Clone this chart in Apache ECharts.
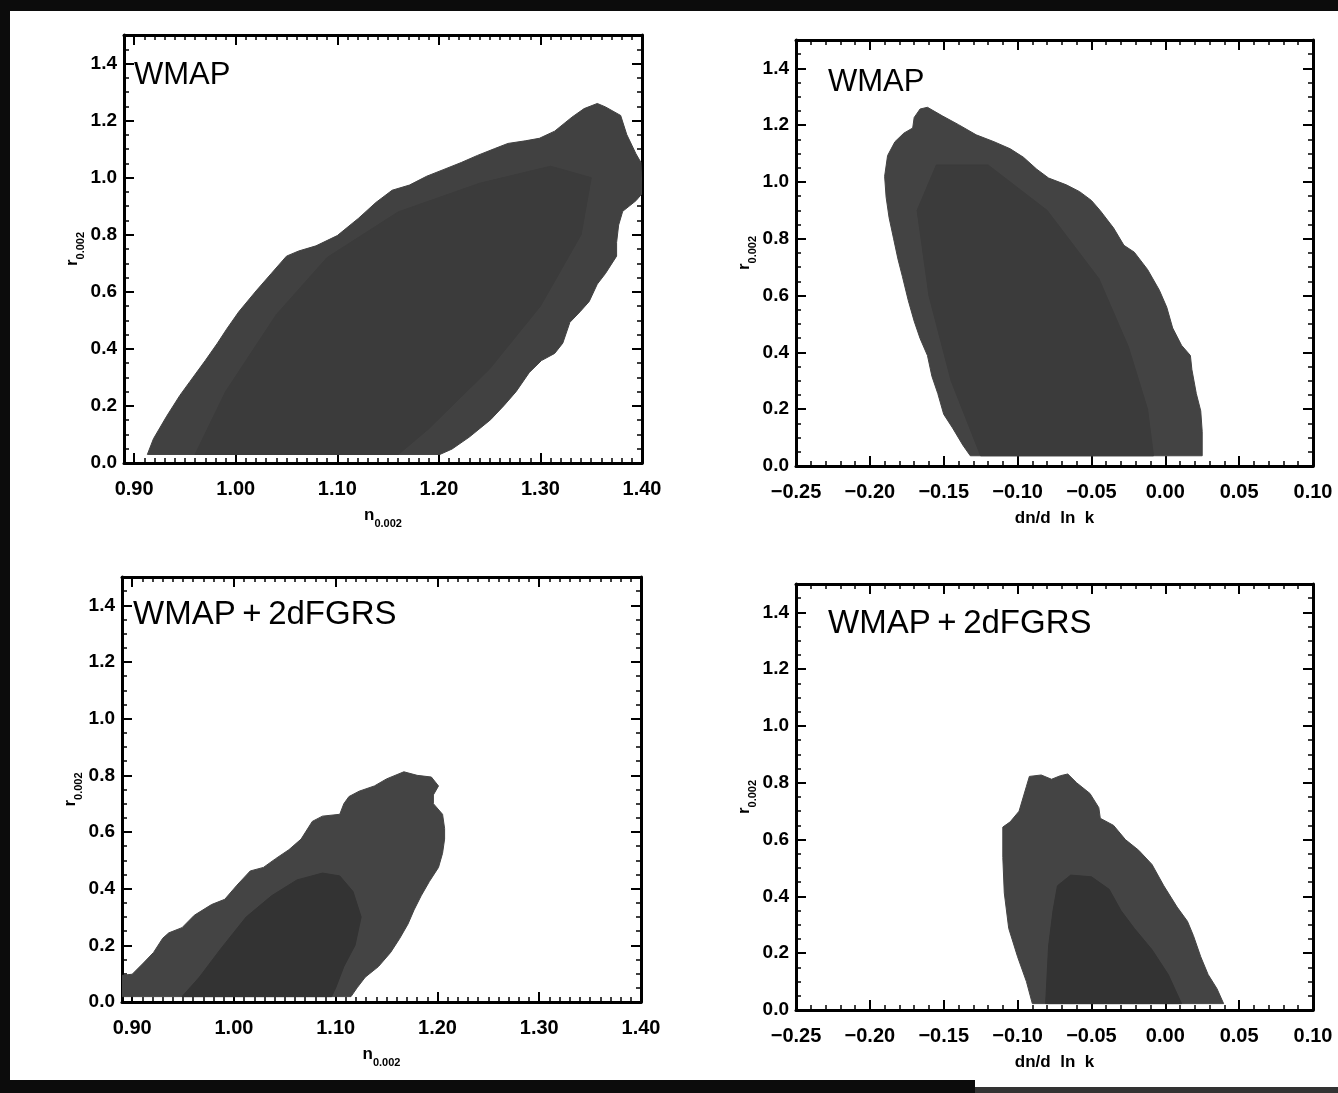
<!DOCTYPE html>
<html>
<head>
<meta charset="utf-8">
<script src="https://cdn.jsdelivr.net/npm/echarts@6/dist/echarts.min.js"></script>
<style>
  html, body { margin: 0; padding: 0; background: #fff; }
  #chart { width: 1338px; height: 1093px; }
</style>
</head>
<body>
<div id="chart"></div>
<script>
// tick labels
const nTicks = [0.9, 1.0, 1.1, 1.2, 1.3, 1.4]
const dnTicks = [-0.25, -0.2, -0.15, -0.1, -0.05, 0, 0.05, 0.1]
const rTicks = [0, 0.2, 0.4, 0.6, 0.8, 1.0, 1.2, 1.4]

// contours, [x, r]
const tlOuter = [
  [0.913, 0.03], [0.919, 0.085], [0.932, 0.164], [0.945, 0.237], [0.955, 0.286], [0.970, 0.359],
  [0.982, 0.42], [0.991, 0.469], [1.003, 0.53], [1.020, 0.603], [1.035, 0.664], [1.050, 0.725],
  [1.062, 0.743], [1.079, 0.761], [1.100, 0.797], [1.121, 0.858], [1.138, 0.913], [1.154, 0.956],
  [1.171, 0.974], [1.188, 1.005], [1.205, 1.029], [1.222, 1.053], [1.238, 1.078], [1.255, 1.102],
  [1.268, 1.12], [1.285, 1.129], [1.299, 1.138], [1.314, 1.163], [1.331, 1.212], [1.343, 1.242],
  [1.356, 1.26], [1.364, 1.248], [1.379, 1.218], [1.385, 1.151], [1.390, 1.114], [1.394, 1.084],
  [1.399, 1.053], [1.4, 0.944], [1.394, 0.919], [1.381, 0.882], [1.377, 0.834], [1.375, 0.773],
  [1.375, 0.725], [1.364, 0.664], [1.356, 0.627], [1.348, 0.566], [1.339, 0.53], [1.329, 0.493],
  [1.322, 0.42], [1.314, 0.384], [1.301, 0.359], [1.289, 0.317], [1.276, 0.25], [1.264, 0.201],
  [1.251, 0.152], [1.230, 0.091], [1.213, 0.049], [1.201, 0.03]
]
const tlInner = [
  [0.96, 0.03], [0.99, 0.25], [1.04, 0.52], [1.09, 0.72], [1.16, 0.88], [1.24, 0.98],
  [1.31, 1.04], [1.35, 1.0], [1.34, 0.8], [1.30, 0.55], [1.25, 0.33], [1.19, 0.12], [1.16, 0.03]
]
const trOuter = [
  [-0.132, 0.036], [-0.137, 0.073], [-0.144, 0.134], [-0.15, 0.182], [-0.154, 0.255], [-0.158, 0.316],
  [-0.161, 0.389], [-0.166, 0.449], [-0.17, 0.51], [-0.174, 0.583], [-0.178, 0.668], [-0.181, 0.729],
  [-0.184, 0.802], [-0.187, 0.875], [-0.189, 0.947], [-0.19, 1.02], [-0.188, 1.093], [-0.183, 1.142],
  [-0.177, 1.172], [-0.171, 1.19], [-0.17, 1.227], [-0.166, 1.257], [-0.161, 1.263], [-0.151, 1.233],
  [-0.14, 1.202], [-0.128, 1.166], [-0.116, 1.142], [-0.105, 1.117], [-0.096, 1.087], [-0.087, 1.045],
  [-0.079, 1.014], [-0.067, 0.99], [-0.058, 0.966], [-0.05, 0.935], [-0.044, 0.899], [-0.035, 0.838],
  [-0.028, 0.777], [-0.021, 0.753], [-0.012, 0.692], [-0.004, 0.619], [0.001, 0.559], [0.005, 0.486],
  [0.011, 0.425], [0.017, 0.389], [0.018, 0.34], [0.021, 0.255], [0.024, 0.194], [0.025, 0.121],
  [0.025, 0.036]
]
const trInner = [
  [-0.125, 0.036], [-0.145, 0.3], [-0.16, 0.6], [-0.168, 0.9], [-0.155, 1.06], [-0.12, 1.06],
  [-0.08, 0.9], [-0.045, 0.66], [-0.025, 0.42], [-0.012, 0.2], [-0.008, 0.036]
]
const blOuter = [
  [0.89, 0.019], [0.89, 0.094], [0.9, 0.098], [0.911, 0.1375], [0.921, 0.175], [0.93, 0.225],
  [0.936, 0.244], [0.949, 0.2625], [0.961, 0.306], [0.978, 0.344], [0.991, 0.3625], [1.003, 0.4125],
  [1.016, 0.4625], [1.029, 0.475], [1.041, 0.506], [1.054, 0.5375], [1.066, 0.575], [1.077, 0.6375],
  [1.087, 0.656], [1.104, 0.6625], [1.108, 0.7], [1.113, 0.725], [1.123, 0.744], [1.138, 0.7625],
  [1.15, 0.7875], [1.167, 0.8125], [1.18, 0.8], [1.194, 0.794], [1.201, 0.7625], [1.196, 0.731],
  [1.196, 0.7], [1.205, 0.6625], [1.207, 0.6125], [1.207, 0.575], [1.205, 0.525], [1.201, 0.475],
  [1.192, 0.425], [1.184, 0.375], [1.177, 0.325], [1.171, 0.275], [1.163, 0.225], [1.154, 0.175],
  [1.142, 0.125], [1.129, 0.0875], [1.121, 0.05], [1.115, 0.019]
]
const blInner = [
  [0.949, 0.019], [0.966, 0.0875], [0.987, 0.1875], [1.012, 0.3], [1.037, 0.375], [1.062, 0.431],
  [1.087, 0.455], [1.104, 0.445], [1.117, 0.39], [1.125, 0.3], [1.119, 0.2], [1.108, 0.125],
  [1.1, 0.05], [1.096, 0.019]
]
const brOuter = [
  [-0.09, 0.0225], [-0.094, 0.1], [-0.1, 0.1875], [-0.106, 0.2875], [-0.109, 0.4125], [-0.11, 0.5375],
  [-0.11, 0.644], [-0.105, 0.6625], [-0.099, 0.7], [-0.094, 0.7875], [-0.092, 0.8225], [-0.084, 0.8275],
  [-0.077, 0.8125], [-0.071, 0.825], [-0.066, 0.831], [-0.06, 0.8], [-0.051, 0.7625], [-0.045, 0.7125],
  [-0.044, 0.675], [-0.035, 0.65], [-0.027, 0.6], [-0.018, 0.5625], [-0.009, 0.5125], [-0.001, 0.4375],
  [0.008, 0.3625], [0.015, 0.3125], [0.019, 0.2625], [0.024, 0.1875], [0.029, 0.125], [0.035, 0.075],
  [0.0395, 0.0225]
]
const brInner = [
  [-0.081, 0.0225], [-0.079, 0.225], [-0.076, 0.35], [-0.073, 0.4375], [-0.064, 0.475], [-0.05, 0.469],
  [-0.038, 0.425], [-0.03, 0.35], [-0.021, 0.2875], [-0.009, 0.2125], [0.002, 0.125], [0.011, 0.0225]
]

const FONT = 'Liberation Sans'

const chart = echarts.init(document.getElementById('chart'), null, { renderer: 'canvas' })

// 4 panels: TL, TR, BL, BR
const grids = [
  { left: 124, top: 35, width: 518, height: 428 },
  { left: 796, top: 40, width: 517, height: 426 },
  { left: 122, top: 577, width: 519, height: 425 },
  { left: 796, top: 584, width: 517, height: 426 }
]

function fmtX(v) {
  if (Math.abs(v) < 1e-9) v = 0
  return v.toFixed(2).replace('-', '\u2212')
}

const subName = function (base, sub) {
  return {
    name: '{n|' + base + '}{s|' + sub + '}',
    nameTextStyle: {
      rich: {
        n: { fontSize: 17, fontWeight: 'bold', fontFamily: FONT, color: '#000', verticalAlign: 'bottom', padding: [0, 0, 5, 0] },
        s: { fontSize: 11, fontWeight: 'bold', fontFamily: FONT, color: '#000', verticalAlign: 'bottom' }
      }
    }
  }
}

const xAxes = []
const yAxes = []

function addX(gi, min, max, ticks, minorStep, withName) {
  const major = {
    type: 'value', gridIndex: gi, min: min, max: max, position: 'bottom',
    axisLine: { show: true, onZero: false, lineStyle: { color: '#000', width: 3 } },
    axisTick: { show: true, inside: true, length: 10, customValues: ticks, lineStyle: { color: '#000', width: 2 } },
    axisLabel: { show: true, customValues: ticks, formatter: fmtX, margin: 16, color: '#000', fontSize: 20, fontWeight: 'bold', fontFamily: FONT },
    splitLine: { show: false },
    nameLocation: 'middle', nameGap: 44
  }
  Object.assign(major, withName)
  const top = {
    type: 'value', gridIndex: gi, min: min, max: max, position: 'top',
    axisLine: { show: true, onZero: false, lineStyle: { color: '#000', width: 3 } },
    axisTick: { show: true, inside: true, length: 10, customValues: ticks, lineStyle: { color: '#000', width: 2 } },
    axisLabel: { show: false }, splitLine: { show: false }
  }
  const minor = function (pos) {
    return {
      type: 'value', gridIndex: gi, min: min, max: max, interval: minorStep, position: pos,
      axisLine: { show: false, onZero: false },
      axisTick: { show: true, inside: true, length: 5, lineStyle: { color: '#000', width: 1.5 } },
      axisLabel: { show: false }, splitLine: { show: false }
    }
  }
  xAxes.push(major, top, minor('bottom'), minor('top'))
}

function addY(gi) {
  const major = {
    type: 'value', gridIndex: gi, min: 0, max: 1.5, position: 'left',
    axisLine: { show: true, onZero: false, lineStyle: { color: '#000', width: 3 } },
    axisTick: { show: true, inside: true, length: 10, customValues: rTicks, lineStyle: { color: '#000', width: 2 } },
    axisLabel: { show: true, customValues: rTicks, formatter: function (v) { return v.toFixed(1) }, margin: 7, color: '#000', fontSize: 19, fontWeight: 'bold', fontFamily: FONT },
    splitLine: { show: false },
    nameLocation: 'middle', nameGap: 38
  }
  Object.assign(major, subName('r', '0.002'))
  const right = {
    type: 'value', gridIndex: gi, min: 0, max: 1.5, position: 'right',
    axisLine: { show: true, onZero: false, lineStyle: { color: '#000', width: 3 } },
    axisTick: { show: true, inside: true, length: 10, customValues: rTicks, lineStyle: { color: '#000', width: 2 } },
    axisLabel: { show: false }, splitLine: { show: false }
  }
  const minor = function (pos) {
    return {
      type: 'value', gridIndex: gi, min: 0, max: 1.5, interval: 0.05, position: pos,
      axisLine: { show: false, onZero: false },
      axisTick: { show: true, inside: true, length: 5, lineStyle: { color: '#000', width: 1.5 } },
      axisLabel: { show: false }, splitLine: { show: false }
    }
  }
  yAxes.push(major, right, minor('left'), minor('right'))
}

const dnName = {
  name: 'dn/d  ln  k',
  nameTextStyle: { fontSize: 17, fontWeight: 'bold', fontFamily: FONT, color: '#000' }
}

addX(0, 0.89, 1.4, nTicks, 0.01, subName('n', '0.002'))
addX(1, -0.25, 0.1, dnTicks, 0.01, dnName)
addX(2, 0.89, 1.4, nTicks, 0.01, subName('n', '0.002'))
addX(3, -0.25, 0.1, dnTicks, 0.01, dnName)
for (let i = 0; i < 4; i++) addY(i)

function region(points, color, gi) {
  return {
    type: 'custom',
    xAxisIndex: gi * 4,
    yAxisIndex: gi * 4,
    silent: true,
    clip: true,
    data: points,
    renderItem: function (params, api) {
      if (params.dataIndex !== 0) return null
      return {
        type: 'polygon',
        shape: { points: points.map(function (p) { return api.coord(p) }) },
        style: { fill: color, stroke: color, lineWidth: 1 }
      }
    }
  }
}

const titleStyle = { fontSize: 31, fontWeight: 'normal', fontFamily: FONT, color: '#000' }
const titleStyle2 = { fontSize: 33, fontWeight: 'normal', fontFamily: FONT, color: '#000' }

const option = {
  backgroundColor: '#fff',
  animation: false,
  title: [
    { text: 'WMAP', left: 134, top: 60, padding: 0, textStyle: titleStyle },
    { text: 'WMAP', left: 828, top: 67, padding: 0, textStyle: titleStyle },
    { text: 'WMAP\u2009+\u20092dFGRS', left: 133, top: 598, padding: 0, textStyle: titleStyle2 },
    { text: 'WMAP\u2009+\u20092dFGRS', left: 828, top: 607, padding: 0, textStyle: titleStyle2 }
  ],
  grid: grids,
  xAxis: xAxes,
  yAxis: yAxes,
  graphic: [
    // scan border
    { type: 'rect', left: 0, top: 0, shape: { width: 1338, height: 11 }, style: { fill: '#0c0c0c' } },
    { type: 'rect', left: 0, top: 0, shape: { width: 10, height: 1093 }, style: { fill: '#0c0c0c' } },
    { type: 'rect', left: 0, top: 1080, shape: { width: 975, height: 13 }, style: { fill: '#0c0c0c' } },
    { type: 'rect', left: 975, top: 1087, shape: { width: 363, height: 6 }, style: { fill: '#333' } }
  ],
  series: [
    region(tlOuter, '#414141', 0),
    region(tlInner, '#3b3b3b', 0),
    region(trOuter, '#434343', 1),
    region(trInner, '#3b3b3b', 1),
    region(blOuter, '#444444', 2),
    region(blInner, '#333333', 2),
    region(brOuter, '#444444', 3),
    region(brInner, '#333333', 3)
  ]
}

chart.setOption(option)
</script>
</body>
</html>
